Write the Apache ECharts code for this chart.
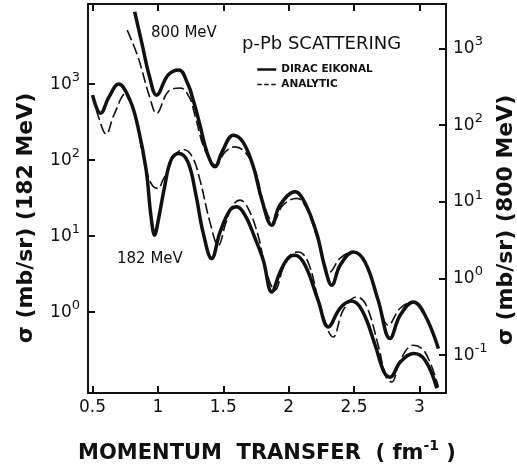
<!DOCTYPE html>
<html>
<head>
<meta charset="utf-8">
<title>p-Pb scattering</title>
<script src="https://cdn.jsdelivr.net/npm/echarts@6.0.0/dist/echarts.min.js"></script>
<style>
    html, body { margin: 0; padding: 0; background: #fff; }
    #chart { width: 517px; height: 471px; }
</style>
</head>
<body>
<div id="chart"></div>
<script>
// momentum transfer (fm^-1) and cross sections (mb/sr)

// 182 MeV, left axis
const q182Dirac = [0.500, 0.561, 0.625, 0.699, 0.786, 0.847, 0.910, 0.946, 0.975, 1.000, 1.051, 1.100, 1.160, 1.230, 1.291, 1.347, 1.411, 1.475, 1.551, 1.603, 1.666, 1.743, 1.806, 1.871, 1.934, 1.995, 2.049, 2.126, 2.225, 2.304, 2.394, 2.478, 2.562, 2.662, 2.731, 2.776, 2.853, 2.955, 3.044, 3.134];
const s182Dirac = [716, 412, 674, 1000, 615, 274, 74, 18.9, 10.3, 15.3, 44.6, 100, 122, 94, 34.6, 10.9, 5.09, 11.3, 22.0, 24.3, 18.9, 9.4, 4.83, 1.85, 3.36, 5.13, 5.62, 4.15, 1.44, 0.641, 1.13, 1.40, 1.06, 0.368, 0.162, 0.140, 0.220, 0.286, 0.234, 0.100];

const q182Analytic = [0.500, 0.548, 0.604, 0.663, 0.757, 0.786, 0.847, 0.872, 0.923, 0.962, 1.000, 1.038, 1.077, 1.130, 1.191, 1.260, 1.322, 1.398, 1.462, 1.521, 1.574, 1.628, 1.689, 1.766, 1.827, 1.896, 1.957, 2.011, 2.074, 2.149, 2.240, 2.342, 2.417, 2.521, 2.593, 2.685, 2.746, 2.789, 2.853, 2.955, 3.044, 3.146];
const s182Analytic = [716, 357, 220, 391, 755, 615, 274, 150, 63.5, 45.5, 42.5, 54.6, 74, 116, 138, 113, 54.6, 15.3, 7.6, 15.3, 25.6, 29.8, 23.4, 10.3, 3.57, 1.95, 3.79, 5.62, 6.2, 4.55, 1.24, 0.473, 1.06, 1.59, 1.24, 0.368, 0.140, 0.121, 0.234, 0.368, 0.298, 0.104];

// 800 MeV, right axis
const q800Dirac = [0.822, 0.877, 0.936, 0.990, 1.077, 1.160, 1.230, 1.270, 1.322, 1.375, 1.437, 1.490, 1.577, 1.651, 1.730, 1.796, 1.871, 1.934, 2.049, 2.126, 2.215, 2.279, 2.330, 2.394, 2.495, 2.585, 2.685, 2.776, 2.853, 2.955, 3.044, 3.146];
const s800Dirac = [3006, 1175, 427, 246, 449, 525, 340, 212, 100, 44.5, 28.6, 44.5, 74, 60, 28.6, 10.5, 4.96, 9.06, 13.5, 9.6, 3.86, 1.36, 0.818, 1.49, 2.22, 1.63, 0.521, 0.165, 0.332, 0.495, 0.332, 0.122];

const q800Analytic = [0.765, 0.847, 0.936, 0.990, 1.077, 1.170, 1.240, 1.283, 1.360, 1.444, 1.513, 1.590, 1.666, 1.743, 1.812, 1.883, 1.957, 2.062, 2.133, 2.225, 2.317, 2.394, 2.495, 2.585, 2.685, 2.763, 2.853, 2.955, 3.044, 3.146];
const s800Analytic = [1734, 778, 234, 142, 272, 305, 232, 135, 47.2, 30.1, 44.5, 52, 44.5, 25.9, 9.06, 5.47, 9.06, 11.1, 8.5, 3.16, 1.22, 1.84, 2.22, 1.63, 0.521, 0.246, 0.410, 0.495, 0.332, 0.122];

// tick positions
const qTicks = [0.5, 1, 1.5, 2, 2.5, 3];
const left182Ticks = [1, 10, 100, 1000];
const right800Ticks = [0.1, 1, 10, 100, 1000];

const ink = '#111';
const pairs = (xs, ys) => xs.map((x, i) => [x, ys[i]]);

const chartDom = document.getElementById('chart');
const chart = echarts.init(chartDom, null, { renderer: 'canvas' });

const powerLabel = {
    formatter: function (value) {
        const e = Math.round(Math.log10(value));
        return '{b|10}{s|' + e + '}';
    },
    rich: {
        b: { fontFamily: 'DejaVu Sans', fontSize: 17, color: ink, lineHeight: 26 },
        s: { fontFamily: 'DejaVu Sans', fontSize: 13, color: ink, lineHeight: 14, verticalAlign: 'top' }
    }
};

const frameLine = { show: true, onZero: false, lineStyle: { color: ink, width: 2 } };
const tickStyle = { color: ink, width: 2 };

function solidSeries(name, data, yIndex) {
    return {
        name: name, type: 'line', data: data, yAxisIndex: yIndex,
        smooth: 0.4, symbol: 'none',
        itemStyle: { color: ink },
        lineStyle: { color: ink, width: 3.5 }
    };
}
function dashedSeries(name, data, yIndex) {
    return {
        name: name, type: 'line', data: data, yAxisIndex: yIndex,
        smooth: 0.4, symbol: 'none',
        itemStyle: { color: ink },
        lineStyle: { color: ink, width: 1.6, type: [11, 4] }
    };
}

const option = {
    backgroundColor: '#fff',
    animation: false,
    grid: { left: 88, right: 71, top: 4, bottom: 78, containLabel: false, outerBoundsMode: 'none' },
    legend: {
        orient: 'vertical', left: 256, top: 64, padding: 0,
        itemWidth: 19, itemHeight: 10, itemGap: 4,
        itemStyle: { opacity: 0 },
        textStyle: { fontFamily: 'DejaVu Sans', fontWeight: 'bold', fontSize: 10.5, color: ink, lineHeight: 10 },
        data: [
            { name: 'DIRAC EIKONAL', lineStyle: { width: 2.5, color: ink } },
            { name: 'ANALYTIC', lineStyle: { width: 1.6, color: ink, type: [4.5, 2.5] } }
        ]
    },
    xAxis: [{
        type: 'value', min: 0.465, max: 3.204, position: 'bottom',
        axisLine: frameLine,
        axisTick: { show: true, inside: true, length: 7, customValues: qTicks, lineStyle: tickStyle },
        axisLabel: {
            customValues: qTicks, margin: 6, fontFamily: 'DejaVu Sans', fontSize: 17, color: ink,
            formatter: v => String(v)
        },
        splitLine: { show: false }
    }, {
        type: 'value', min: 0.465, max: 3.204, position: 'top',
        axisLine: frameLine,
        axisTick: { show: true, inside: true, length: 7, customValues: qTicks, lineStyle: tickStyle },
        axisLabel: { show: false },
        splitLine: { show: false }
    }],
    yAxis: [{
        type: 'log', logBase: 10, min: 0.0867, max: 11300, position: 'left',
        axisLine: frameLine,
        axisTick: { show: true, inside: true, length: 7, customValues: left182Ticks, lineStyle: tickStyle },
        axisLabel: Object.assign({ customValues: left182Ticks, margin: 8 }, powerLabel),
        splitLine: { show: false }, minorTick: { show: false }
    }, {
        type: 'log', logBase: 10, min: 0.0322, max: 3793, position: 'right',
        axisLine: frameLine,
        axisTick: { show: true, inside: true, length: 7, customValues: right800Ticks, lineStyle: tickStyle },
        axisLabel: Object.assign({ customValues: right800Ticks, margin: 7 }, powerLabel),
        splitLine: { show: false }, minorTick: { show: false }
    }],
    graphic: [
        {
            type: 'text', x: 151, y: 33,
            style: { text: '800 MeV', fill: ink, font: '15px "DejaVu Sans"', verticalAlign: 'middle' }
        },
        {
            type: 'text', x: 117, y: 259,
            style: { text: '182 MeV', fill: ink, font: '15px "DejaVu Sans"', verticalAlign: 'middle' }
        },
        {
            type: 'text', x: 242, y: 44,
            style: { text: 'p-Pb SCATTERING', fill: ink, font: '18px "DejaVu Sans"', verticalAlign: 'middle' }
        },
        {
            type: 'text', x: 26, y: 218, rotation: Math.PI / 2,
            style: { text: 'σ (mb/sr) (182 MeV)', fill: ink, font: 'bold 22px "DejaVu Sans"', align: 'center', verticalAlign: 'middle' }
        },
        {
            type: 'text', x: 506, y: 220, rotation: Math.PI / 2,
            style: { text: 'σ (mb/sr) (800 MeV)', fill: ink, font: 'bold 22px "DejaVu Sans"', align: 'center', verticalAlign: 'middle' }
        },
        {
            type: 'text', x: 267, y: 454,
            style: {
                text: '{t|MOMENTUM  TRANSFER  ( fm}{s|-1}{t| )}',
                align: 'center', verticalAlign: 'middle',
                rich: {
                    t: { fontFamily: 'DejaVu Sans', fontWeight: 'bold', fontSize: 21, fill: ink, lineHeight: 30 },
                    s: { fontFamily: 'DejaVu Sans', fontWeight: 'bold', fontSize: 14, fill: ink, lineHeight: 16, verticalAlign: 'top' }
                }
            }
        }
    ],
    series: [
        dashedSeries('ANALYTIC', pairs(q182Analytic, s182Analytic), 0),
        solidSeries('DIRAC EIKONAL', pairs(q182Dirac, s182Dirac), 0),
        dashedSeries('ANALYTIC', pairs(q800Analytic, s800Analytic), 1),
        solidSeries('DIRAC EIKONAL', pairs(q800Dirac, s800Dirac), 1)
    ]
};

chart.setOption(option);

window.addEventListener('resize', function () {
    chart.resize();
});
</script>
</body>
</html>
